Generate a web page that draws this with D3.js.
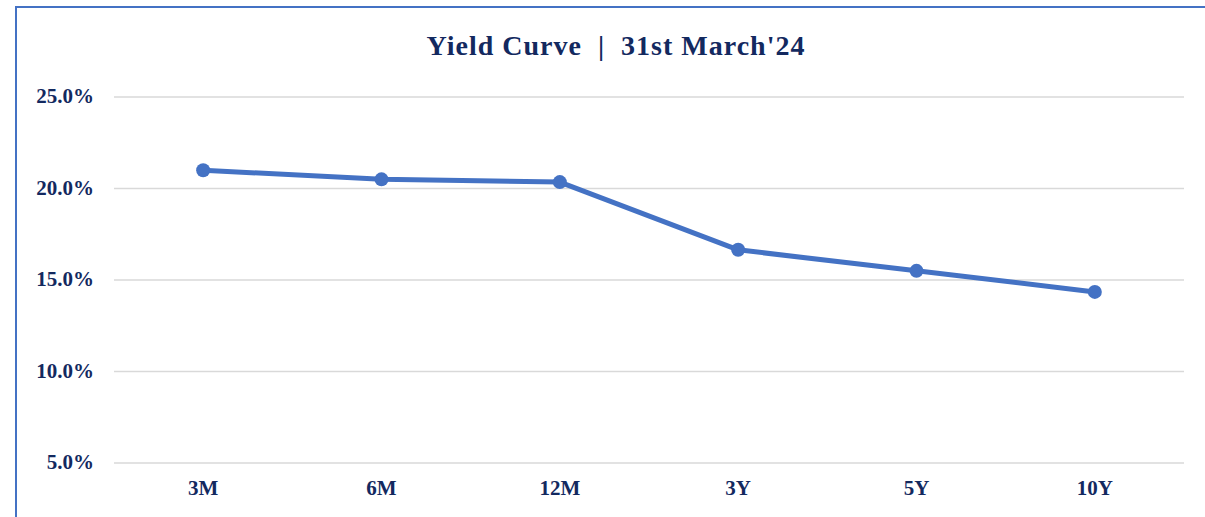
<!DOCTYPE html>
<html>
<head>
<meta charset="utf-8">
<script src="https://d3js.org/d3.v7.min.js"></script>
<style>
  body { margin: 0; background: #fff; }
  text { font-family: "Liberation Serif", "DejaVu Serif", serif; font-weight: bold; fill: #13295f; }
</style>
</head>
<body>
<script>
// tenors and yields (%)
const tenors = ["3M", "6M", "12M", "3Y", "5Y", "10Y"];
const yields = [21.0, 20.5, 20.35, 16.65, 15.5, 14.35];
const yTicks = [5, 10, 15, 20, 25];
const title = "Yield Curve  |  31st March'24";

const width = 1205, height = 517;
const margin = {top: 97, right: 21, bottom: 54, left: 114};

const svg = d3.select("body").append("svg")
  .attr("width", width)
  .attr("height", height);

// outer frame (cropped on right / bottom)
svg.append("rect")
  .attr("x", 16).attr("y", 7)
  .attr("width", width).attr("height", height)
  .attr("fill", "none")
  .attr("stroke", "#4472c4")
  .attr("stroke-width", 2);

svg.append("text")
  .attr("x", 616).attr("y", 55)
  .attr("text-anchor", "middle")
  .style("font-size", "28px")
  .style("letter-spacing", "1px")
  .style("white-space", "pre")
  .text(title);

const x = d3.scaleBand()
  .domain(tenors)
  .range([margin.left, width - margin.right]);

const y = d3.scaleLinear()
  .domain([5, 25])
  .range([height - margin.bottom, margin.top]);

// gridlines
svg.append("g")
  .selectAll("line")
  .data(yTicks)
  .join("line")
  .attr("x1", margin.left).attr("x2", width - margin.right)
  .attr("y1", d => y(d)).attr("y2", d => y(d))
  .attr("stroke", "#d9d9d9")
  .attr("stroke-width", 1.5);

// y labels
svg.append("g")
  .selectAll("text")
  .data(yTicks)
  .join("text")
  .attr("x", 94)
  .attr("y", d => y(d) + 6)
  .attr("text-anchor", "end")
  .style("font-size", "21px")
  .text(d => d3.format(".1f")(d) + "%");

// x labels
svg.append("g")
  .selectAll("text")
  .data(tenors)
  .join("text")
  .attr("x", d => x(d) + x.bandwidth() / 2)
  .attr("y", 495)
  .attr("text-anchor", "middle")
  .style("font-size", "21px")
  .text(d => d);

const pts = tenors.map((t, i) => [x(t) + x.bandwidth() / 2, y(yields[i])]);

svg.append("path")
  .attr("d", d3.line()(pts))
  .attr("fill", "none")
  .attr("stroke", "#4472c4")
  .attr("stroke-width", 5)
  .attr("stroke-linejoin", "round");

svg.append("g")
  .selectAll("circle")
  .data(pts)
  .join("circle")
  .attr("cx", d => d[0])
  .attr("cy", d => d[1])
  .attr("r", 7)
  .attr("fill", "#4472c4");
</script>
</body>
</html>
